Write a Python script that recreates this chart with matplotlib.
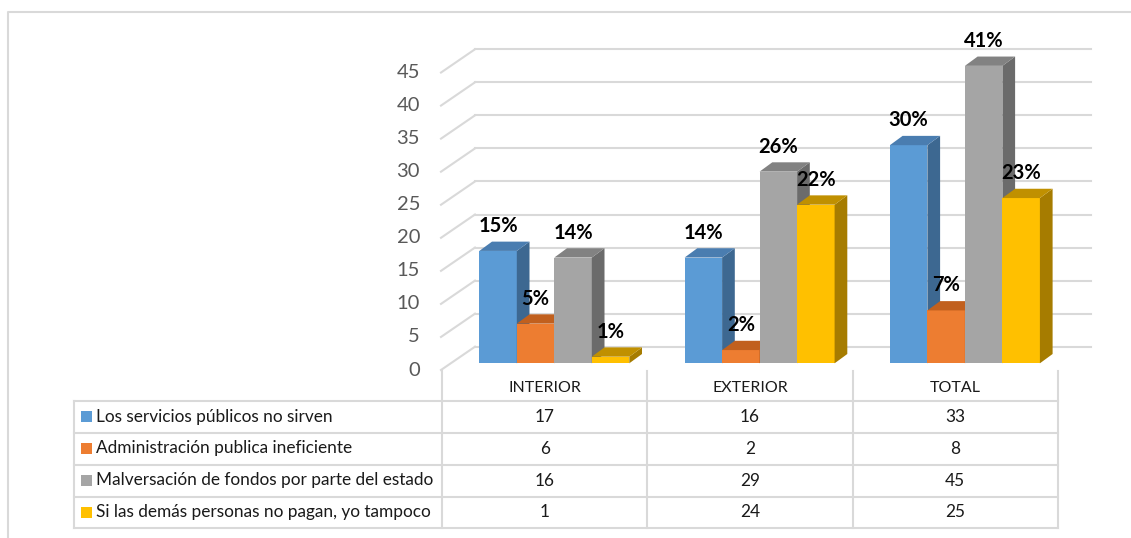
import numpy as np
import matplotlib
matplotlib.use('Agg')
import matplotlib.pyplot as plt
from matplotlib.patches import Polygon, Rectangle

plt.rcParams['font.family'] = ['Lato', 'DejaVu Sans']

# datos
categorias = ['INTERIOR', 'EXTERIOR', 'TOTAL']
series = ['Los servicios públicos no sirven',
          'Administración publica ineficiente',
          'Malversación de fondos por parte del estado',
          'Si las demás personas no pagan, yo tampoco']
servicios = [17, 16, 33]
administracion = [6, 2, 8]
malversacion = [16, 29, 45]
tampoco = [1, 24, 25]
pct_servicios = ['15%', '14%', '30%']
pct_administracion = ['5%', '2%', '7%']
pct_malversacion = ['14%', '26%', '41%']
pct_tampoco = ['1%', '22%', '23%']
yticks = [0, 5, 10, 15, 20, 25, 30, 35, 40, 45]

valores = [servicios, administracion, malversacion, tampoco]
porcentajes = [pct_servicios, pct_administracion, pct_malversacion, pct_tampoco]

frente = ['#5B9BD5', '#ED7D31', '#A5A5A5', '#FFC000']
lado = ['#3D6891', '#AB561E', '#6B6B6B', '#A67C00']
techo = ['#4A7DB0', '#C1601E', '#828282', '#C09000']
gris = '#D9D9D9'

W, H = 1131, 538
# escala en pixeles: centro de la categoria 0 y pixel del valor 0
X0, SX = 554.3, 205.3
Y0, SY = 363.3, 6.61

fig = plt.figure(figsize=(W / 100, H / 100), dpi=100)

# capa de fondo en pixeles para marco y tabla
ov = fig.add_axes([0, 0, 1, 1])
ov.set_xlim(0, W)
ov.set_ylim(H, 0)
ov.axis('off')

# grafico
pl, pr, pt, pb = 400, 1110, 20, 380
ax = fig.add_axes([pl / W, 1 - pb / H, (pr - pl) / W, (pb - pt) / H])
ax.set_xlim((pl - X0) / SX, (pr - X0) / SX)
ax.set_ylim((Y0 - pb) / SY, (Y0 - pt) / SY)
ax.axis('off')
ax.patch.set_alpha(0)

# pared del fondo
vf = (Y0 - 370) / SY
vb = (Y0 - 346.7) / SY
xs0 = (441 - X0) / SX
xs1 = (475 - X0) / SX
xe = (1091 - X0) / SX
for v in yticks:
    ax.plot([xs0, xs1], [vf + v, vb + v], color=gris, lw=1.5, zorder=1)
    ax.plot([xs1, xe], [vb + v, vb + v], color=gris, lw=1.5, zorder=1)
    ax.text((420 - X0) / SX, vf + v, str(v), ha='right', va='center',
            fontsize=14.5, color='#595959', clip_on=False)

# barras con efecto 3d
w = 37.5 / SX
dx = 12.7 / SX
dy = 9.3 / SY
for k in range(len(series)):
    for i in range(len(categorias)):
        v = valores[k][i]
        x0 = i + (k - 2) * w
        ax.bar(x0, v, width=w, align='edge', color=frente[k], zorder=3 + k)
        ax.add_patch(Polygon([(x0 + w, 0), (x0 + w + dx, dy), (x0 + w + dx, v + dy), (x0 + w, v)],
                             closed=True, facecolor=lado[k], edgecolor='none', zorder=3 + k))
        ax.add_patch(Polygon([(x0, v), (x0 + dx, v + dy), (x0 + w + dx, v + dy), (x0 + w, v)],
                             closed=True, facecolor=techo[k], edgecolor='none', zorder=3 + k))
        ax.text(x0 + w / 2, v + 25 / SY, porcentajes[k][i], ha='center', va='center',
                fontsize=14.5, fontweight='bold', color='black', zorder=10)

# marco exterior
ov.plot([8, 8, W + 5], [H + 5, 12, 12], color=gris, lw=1.5)

# tabla de datos
col_x = [442 + j * SX for j in range(4)]
fil_y = [401, 432.5, 464.5, 496.5, 528]
left_x = 74
ov.plot([col_x[0], col_x[0]], [370, fil_y[-1]], color=gris, lw=1.5)
for x in col_x[1:]:
    ov.plot([x, x], [371, fil_y[-1]], color=gris, lw=1.5)
ov.plot([left_x, left_x], [fil_y[0], fil_y[-1]], color=gris, lw=1.5)
for y in fil_y:
    ov.plot([left_x, col_x[-1]], [y, y], color=gris, lw=1.5)

for j, c in enumerate(categorias):
    ov.text((col_x[j] + col_x[j + 1]) / 2, 388, c, ha='center', va='center',
            fontsize=11.5, color='#1a1a1a')

for k, s in enumerate(series):
    yc = (fil_y[k] + fil_y[k + 1]) / 2
    ov.add_patch(Rectangle((81, yc - 5.5), 11, 11, facecolor=frente[k], edgecolor='none'))
    ov.text(96, yc, s, ha='left', va='center', fontsize=12.4, color='#1a1a1a')
    for j in range(len(categorias)):
        ov.text((col_x[j] + col_x[j + 1]) / 2, yc, str(valores[k][j]), ha='center',
                va='center', fontsize=12.4, color='#1a1a1a')

fig.savefig('out.png', dpi=100)
